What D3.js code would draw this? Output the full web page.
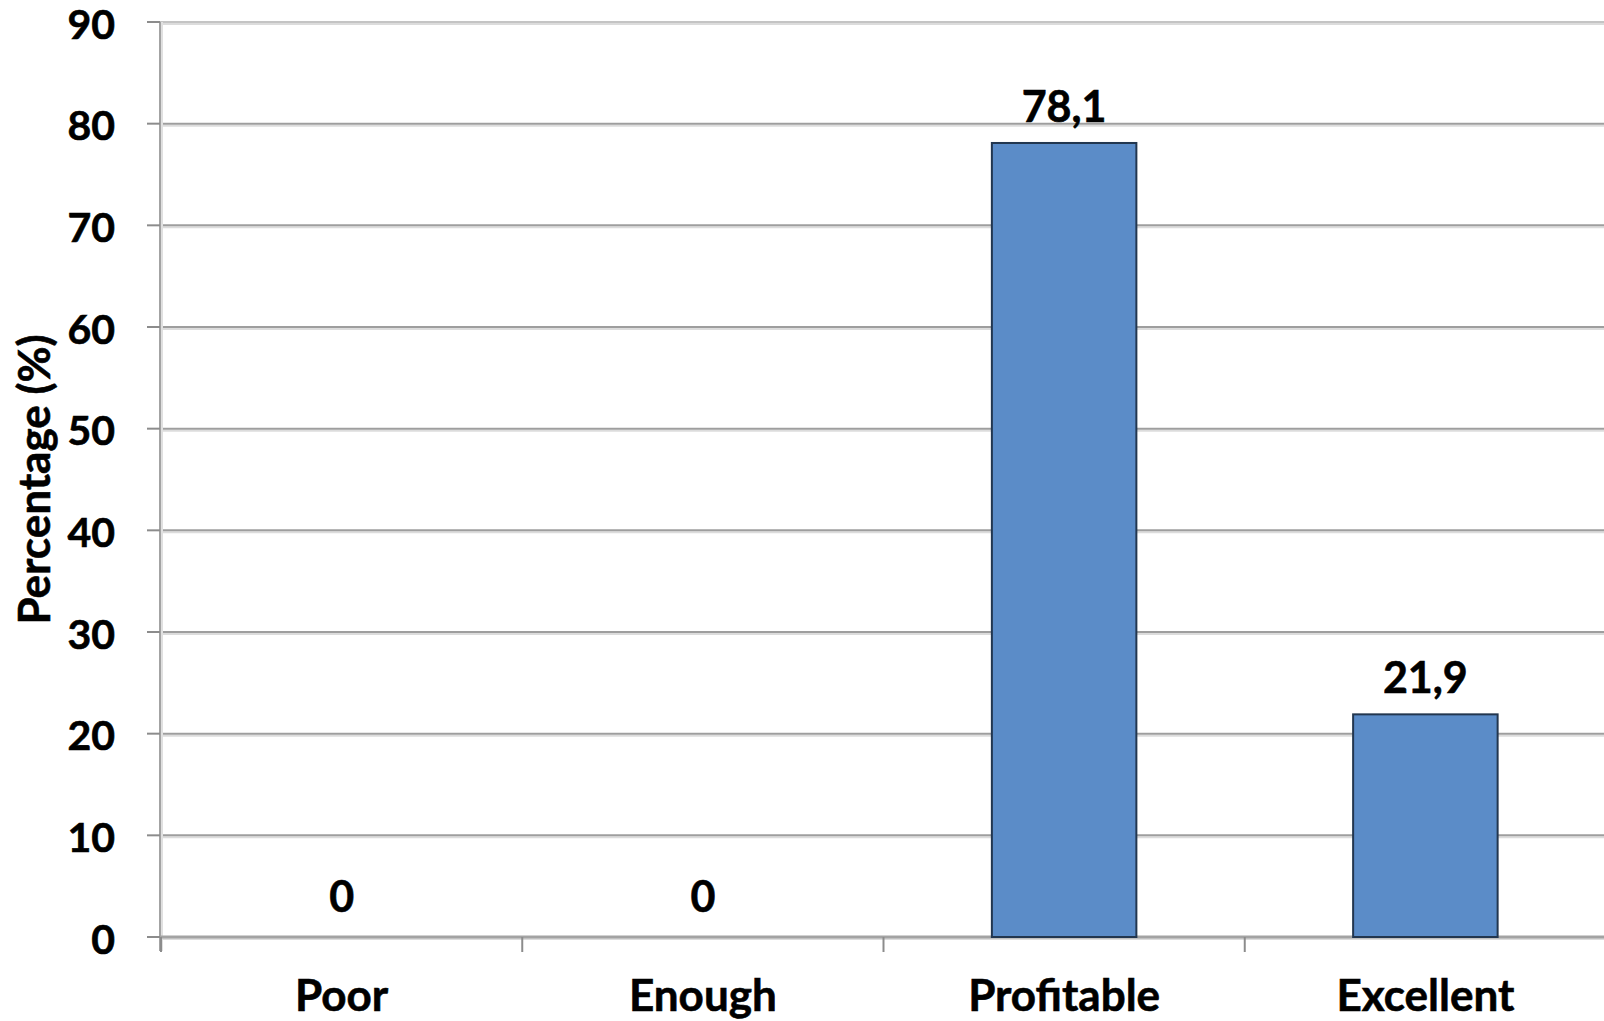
<!DOCTYPE html>
<html>
<head>
<meta charset="utf-8">
<script src="https://cdn.jsdelivr.net/npm/d3@7/dist/d3.min.js"></script>
<style>
  html, body { margin: 0; padding: 0; background: #ffffff; }
  svg { display: block; }
  text { font-family: Lato, "Open Sans", sans-serif; font-weight: 700; fill: #000; stroke: #000; stroke-width: 0.6px; }
</style>
</head>
<body>
<svg id="chart" width="1604" height="1021"></svg>
<script>
// Rating categories and the share of responses in each
const categories = ["Poor", "Enough", "Profitable", "Excellent"];
const percentages = [0, 0, 78.1, 21.9];
const valueLabels = ["0", "0", "78,1", "21,9"];
const yTicks = [0, 10, 20, 30, 40, 50, 60, 70, 80, 90];

const svg = d3.select("#chart");
const margin = { left: 160, right: -2, top: 22, bottom: 84 };
const W = 1604, H = 1021;

const x = d3.scaleBand()
  .domain(categories)
  .range([margin.left + 1, W - margin.right])
  .paddingInner(0.6)
  .paddingOuter(0.3);

const y = d3.scaleLinear()
  .domain([0, 90])
  .range([H - margin.bottom, margin.top]);

const bandStep = x.step();
const bandStart = x.range()[0];

// Horizontal gridlines with a soft drop shadow
const grid = svg.append("g");
grid.selectAll("line.shadow")
  .data(yTicks.filter(d => d > 0))
  .join("line")
  .attr("x1", margin.left).attr("x2", W)
  .attr("y1", d => y(d) + 2).attr("y2", d => y(d) + 2)
  .attr("stroke", "#dcdcdc").attr("stroke-width", 2);
grid.selectAll("line.main")
  .data(yTicks.filter(d => d > 0))
  .join("line")
  .attr("x1", margin.left).attr("x2", W)
  .attr("y1", d => y(d)).attr("y2", d => y(d))
  .attr("stroke", d => d === 90 ? "#c4c4c4" : "#9e9e9e").attr("stroke-width", 2);

// Y axis
const yAxis = svg.append("g").attr("transform", `translate(${margin.left},0)`);
yAxis.append("line")
  .attr("x1", 2).attr("x2", 2)
  .attr("y1", y(90)).attr("y2", y(0) + 14)
  .attr("stroke", "#e0e0e0").attr("stroke-width", 2);
yAxis.append("line")
  .attr("x1", 0).attr("x2", 0)
  .attr("y1", y(90)).attr("y2", y(0) + 14)
  .attr("stroke", "#a3a3a3").attr("stroke-width", 2);
yAxis.selectAll("line.tick")
  .data(yTicks)
  .join("line")
  .attr("x1", -13).attr("x2", 0)
  .attr("y1", d => y(d)).attr("y2", d => y(d))
  .attr("stroke", "#8c8c8c").attr("stroke-width", 2);
yAxis.selectAll("text.tick")
  .data(yTicks)
  .join("text")
  .attr("x", -45)
  .attr("y", d => y(d) + 2)
  .attr("dy", "0.36em")
  .attr("text-anchor", "end")
  .attr("font-size", 41)
  .text(d => d);

// X axis baseline and category separators
const xAxis = svg.append("g");
xAxis.append("line")
  .attr("x1", margin.left).attr("x2", W)
  .attr("y1", y(0) + 2).attr("y2", y(0) + 2)
  .attr("stroke", "#dcdcdc").attr("stroke-width", 2);
xAxis.append("line")
  .attr("x1", margin.left).attr("x2", W)
  .attr("y1", y(0)).attr("y2", y(0))
  .attr("stroke", "#a3a3a3").attr("stroke-width", 3);
xAxis.selectAll("line.sep")
  .data(categories)
  .join("line")
  .attr("x1", (d, i) => bandStart + i * bandStep)
  .attr("x2", (d, i) => bandStart + i * bandStep)
  .attr("y1", y(0)).attr("y2", y(0) + 15)
  .attr("stroke", "#8c8c8c").attr("stroke-width", 2);
xAxis.selectAll("text.cat")
  .data(categories)
  .join("text")
  .attr("x", d => x(d) + x.bandwidth() / 2)
  .attr("y", 1011)
  .attr("text-anchor", "middle")
  .attr("font-size", 44)
  .text(d => d);

// Bars
svg.append("g").selectAll("rect")
  .data(percentages)
  .join("rect")
  .attr("x", (d, i) => x(categories[i]))
  .attr("width", x.bandwidth())
  .attr("y", d => y(d))
  .attr("height", d => y(0) - y(d))
  .attr("fill", "#5b8cc8")
  .attr("stroke", "#22364f")
  .attr("stroke-width", 2)
  .attr("display", d => d > 0 ? null : "none");

// Value labels above bars
svg.append("g").selectAll("text")
  .data(percentages)
  .join("text")
  .attr("x", (d, i) => x(categories[i]) + x.bandwidth() / 2)
  .attr("y", d => y(d) - (d > 0 ? 21 : 25))
  .attr("text-anchor", "middle")
  .attr("font-size", 43)
  .text((d, i) => valueLabels[i]);

// Y axis title
svg.append("text")
  .attr("transform", `translate(50,${(y(0) + y(90)) / 2}) rotate(-90)`)
  .attr("text-anchor", "middle")
  .attr("font-size", 44)
  .text("Percentage (%)");
</script>
</body>
</html>
